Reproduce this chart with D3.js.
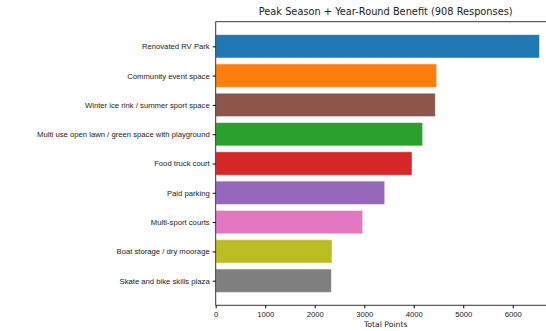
<!DOCTYPE html>
<html>
<head>
<meta charset="utf-8">
<script src="https://cdn.jsdelivr.net/npm/d3@7"></script>
<style>
  body { margin: 0; background: #fff; }
  svg { font-family: "DejaVu Sans", sans-serif; }
</style>
</head>
<body>
<svg width="546" height="331"></svg>
<script>
const categories = [
  'Renovated RV Park',
  'Community event space',
  'Winter ice rink / summer sport space',
  'Multi use open lawn / green space with playground',
  'Food truck court',
  'Paid parking',
  'Multi-sport courts',
  'Boat storage / dry moorage',
  'Skate and bike skills plaza',
]
const points = [6540, 4465, 4437, 4180, 3966, 3414, 2970, 2350, 2337]
const colors = ['#1f77b4', '#ff7f0e', '#8c564b', '#2ca02c', '#d62728', '#9467bd', '#e377c2', '#bcbd22', '#7f7f7f']
const xTicks = [0, 1000, 2000, 3000, 4000, 5000, 6000]

const margin = { top: 21.7, left: 215.7 }
const width = 340
const height = 283.6

const svg = d3.select('svg')
const g = svg.append('g')
    .attr('transform', `translate(${margin.left}, ${margin.top})`)

const x = d3.scaleLinear()
    .domain([0, d3.max(points) * 1.05])
    .range([0, width])

// matplotlib style: bars of 0.8 with 5% padding
const y = d3.scaleLinear()
    .domain([-0.84, categories.length - 1 + 0.84])
    .range([0, height])

g.selectAll('rect.bar')
    .data(points)
  .enter().append('rect')
    .attr('class', 'bar')
    .attr('x', x(0))
    .attr('y', (d, i) => y(i - 0.4))
    .attr('width', d => x(d) - x(0))
    .attr('height', y(0.4) - y(-0.4))
    .attr('fill', (d, i) => colors[i])
    .attr('stroke', '#fff')
    .attr('stroke-opacity', 0.55)
    .attr('stroke-width', 1)

// spines
g.append('line').attr('x1', 0).attr('x2', width).attr('y1', 0).attr('y2', 0)
    .attr('stroke', '#000').attr('stroke-width', 0.8)
g.append('line').attr('x1', 0).attr('x2', width).attr('y1', height).attr('y2', height)
    .attr('stroke', '#000').attr('stroke-width', 0.8)
g.append('line').attr('x1', 0).attr('x2', 0).attr('y1', 0).attr('y2', height)
    .attr('stroke', '#000').attr('stroke-width', 0.8)

const xAxis = g.append('g')
    .attr('transform', `translate(0, ${height})`)
    .call(d3.axisBottom(x).tickValues(xTicks).tickSize(3).tickPadding(3).tickFormat(d3.format('d')))
xAxis.select('.domain').remove()
xAxis.selectAll('text').attr('font-size', 7.7).attr('fill', '#222')

const yAxis = g.append('g')
    .call(d3.axisLeft(y).tickValues(d3.range(categories.length)).tickSize(3).tickPadding(3)
      .tickFormat(i => categories[i]))
yAxis.select('.domain').remove()
yAxis.selectAll('text').attr('font-size', 7.7).attr('fill', '#222')

svg.append('text')
    .attr('x', margin.left + width / 2)
    .attr('y', 15)
    .attr('text-anchor', 'middle')
    .attr('font-size', 9.8)
    .attr('fill', '#222')
    .text('Peak Season + Year-Round Benefit (908 Responses)')

svg.append('text')
    .attr('x', margin.left + width / 2)
    .attr('y', 327)
    .attr('text-anchor', 'middle')
    .attr('font-size', 7.7)
    .attr('fill', '#222')
    .text('Total Points')
</script>
</body>
</html>
